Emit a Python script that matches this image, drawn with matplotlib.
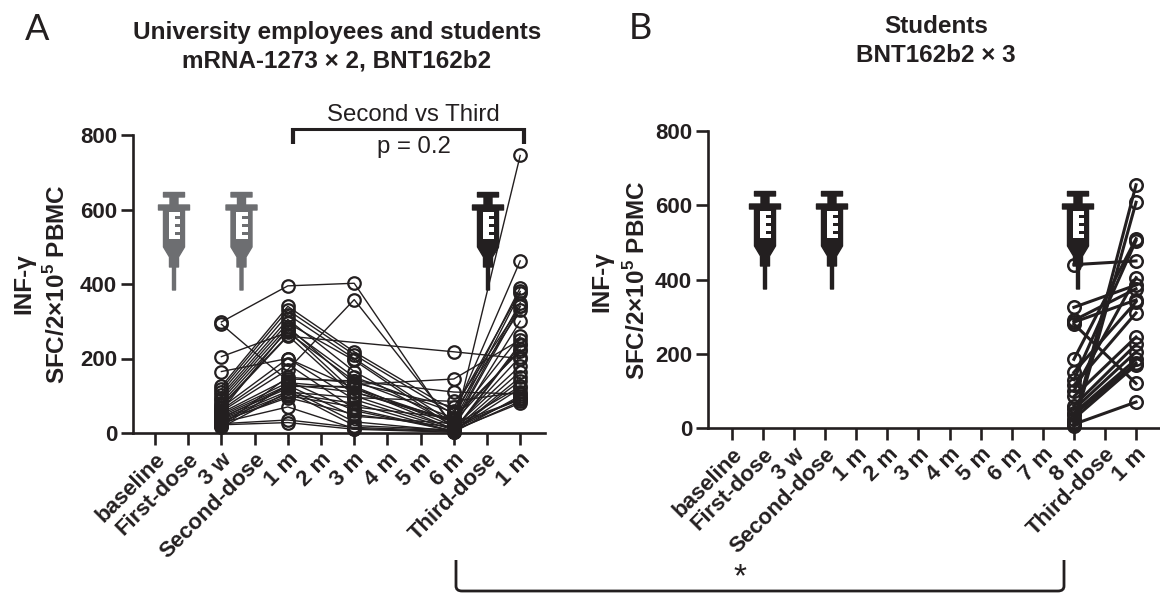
import numpy as np
import matplotlib
matplotlib.use('Agg')
import matplotlib.pyplot as plt
from matplotlib.patches import Polygon, PathPatch
from matplotlib.path import Path

plt.rcParams['font.family'] = ['Liberation Sans', 'DejaVu Sans']
plt.rcParams['mathtext.fontset'] = 'custom'
plt.rcParams['mathtext.bf'] = 'Liberation Sans:bold'
plt.rcParams['mathtext.rm'] = 'Liberation Sans:bold'

W, H = 1160, 597
INK = '#231f20'

labels_a = ['baseline', 'First-dose', '3 w', 'Second-dose', '1 m', '2 m', '3 m',
            '4 m', '5 m', '6 m', 'Third-dose', '1 m']
labels_b = ['baseline', 'First-dose', '3 w', 'Second-dose', '1 m', '2 m', '3 m',
            '4 m', '5 m', '6 m', '7 m', '8 m', 'Third-dose', '1 m']

# panel A, one entry per subject, nan = not sampled
a_3w = [298, 292, 205, 165, 125, 118, 110, 102, 95, 88, 80, 74, 68, 62, 58, 54, 50,
        46, 42, 38, 35, 32, 28, 25, 22, 20, 18, 15, 70, 60, 40, 30]
a_1m = [395, 140, 270, 200, 340, 330, 318, 305, 295, 285, 275, 262, 200, 185, 170,
        145, 135, 128, 120, 112, 105, 95, 70, 35, 28, 150, 130, 110, 260, 280, 125, 100]
a_3m = [402, 60, 140, 120, 218, 210, 200, 165, 195, 130, 110, 100, 90, 65, 358, 140,
        120, 45, 30, 20, 80, 50, 12, 15, 10, 135, 110, 95, np.nan, 150, 125, 70]
a_6m = [10, 5, 40, 30, 60, 50, 25, 20, 15, 145, 30, 12, 8, 5, 20, 110, 10, 25, 5, 8,
        3, 15, 4, 6, 2, 70, 35, 85, 218, 55, 18, 40]
a_bt = [745, 240, 390, 375, 380, 462, 350, 340, 300, 250, 225, 205, 165, 140, 125,
        105, 95, 90, 85, 80, 235, 180, 150, 120, 100, 340, 260, 110, 200, 330, 90, 220]

# panel B
b_8m = [440, 325, 290, 285, 280, 185, 150, 130, 115, 100, 85, 60, 50, 40, 35, 25, 15, 10, 5]
b_bt = [450, 385, 375, 345, 120, 510, 340, 505, 310, 405, 245, 225, 205, 185, 175, 170, 655, 70, 608]

a_idx = [2, 4, 6, 9, 11]
b_idx = [11, 13]


def fx(x):
    return x / W


def fy(y):
    return 1 - y / H


def px_axes(left, right, top, bottom):
    return fig.add_axes([left / W, 1 - bottom / H, (right - left) / W, (bottom - top) / H])


def style(ax, labels, x0, step, left, right):
    ax.set_xlim((left - x0) / step, (right - x0) / step)
    ax.set_ylim(0, 800)
    ax.set_xticks(range(len(labels)))
    ax.set_xticklabels(labels, rotation=45, ha='right', rotation_mode='anchor',
                       fontsize=15.5, fontweight='bold')
    ax.set_yticks([0, 200, 400, 600, 800])
    ax.tick_params(axis='both', width=1.9, length=8.5, labelsize=16, pad=3, colors=INK)
    for t in ax.get_yticklabels():
        t.set_fontweight('bold')
    for s in ['top', 'right']:
        ax.spines[s].set_visible(False)
    for s in ['left', 'bottom']:
        ax.spines[s].set_linewidth(1.9)
        ax.spines[s].set_color(INK)


def syringe(cx, top, color):
    # drawn in pixel coords of the picture, only decoration
    def P(pts, c=color, lw=0.0):
        xy = [(fx(cx + x), fy(top + y)) for x, y in pts]
        fig.add_artist(Polygon(xy, closed=True, fc=c, ec=c, lw=lw, joinstyle='round',
                               transform=fig.transFigure))
    P([(-10.5, 0.5), (10.5, 0.5), (10.5, 5), (4, 5), (4, 13), (15.5, 13), (15.5, 18), (10.5, 18),
       (10.5, 55), (4.5, 65), (4.5, 75), (1.5, 75), (1.5, 98), (-1.5, 98), (-1.5, 75), (-4.5, 75),
       (-4.5, 65), (-10.5, 55), (-10.5, 18), (-15.5, 18), (-15.5, 13), (-4, 13), (-4, 5),
       (-10.5, 5)], lw=1.0)
    P([(-5.5, 20), (6, 20), (6, 24), (1, 24), (1, 27), (6, 27), (6, 32), (1, 32), (1, 35),
       (6, 35), (6, 40), (1, 40), (1, 43), (6, 43), (6, 47), (-5.5, 47)], 'white')


def seg(x1, y1, x2, y2, lw):
    fig.add_artist(plt.Line2D([fx(x1), fx(x2)], [fy(y1), fy(y2)], color=INK, lw=lw,
                              transform=fig.transFigure, solid_capstyle='butt'))


fig = plt.figure(figsize=(W / 100, H / 100), dpi=100)

ax1 = px_axes(133, 545, 135, 433)
style(ax1, labels_a, 155, 33.2, 133, 545)
for row in zip(a_3w, a_1m, a_3m, a_6m, a_bt):
    y = np.array(row, dtype=float)
    ok = ~np.isnan(y)
    ax1.plot(np.array(a_idx)[ok], y[ok], '-', color=INK, lw=1.0, marker='o', ms=9.0,
             mfc='none', mec=INK, mew=1.6, clip_on=False)

ax2 = px_axes(708, 1160, 131, 428)
style(ax2, labels_b, 732, 31.08, 708, 1160)
for a, b in zip(b_8m, b_bt):
    ax2.plot(b_idx, [a, b], '-', color=INK, lw=2.2, marker='o', ms=9.0,
             mfc='none', mec=INK, mew=1.8, clip_on=False)

for cx in [174, 241.5]:
    syringe(cx, 192, '#6d6e71')
syringe(488, 192, INK)
for cx in [765, 832, 1078]:
    syringe(cx, 191, INK)

for x, y, s in [(337, 39.5, 'University employees and students'),
                (337, 67.5, 'mRNA-1273 × 2, BNT162b2'),
                (936, 33, 'Students'),
                (936, 62, 'BNT162b2 × 3')]:
    fig.text(fx(x), fy(y), s, ha='center', va='baseline', fontsize=17.5,
             fontweight='bold', color=INK)

fig.text(fx(37), fy(40), 'A', ha='center', va='baseline', fontsize=26, family='Lato', color=INK)
fig.text(fx(640), fy(39), 'B', ha='center', va='baseline', fontsize=26, family='Lato', color=INK)

for x, y, s in [(24, 284, 'INF-γ'), (57, 284, 'SFC/2×10$^{\\mathbf{5}}$ PBMC'),
                (602, 282, 'INF-γ'), (637, 280, 'SFC/2×10$^{\\mathbf{5}}$ PBMC')]:
    fig.text(fx(x), fy(y), s, rotation=90, ha='center', va='center', fontsize=17.5,
             fontweight='bold', color=INK)

# second vs third bracket
seg(291, 129, 525, 129, 2.2)
seg(292.5, 128, 292.5, 144, 3.0)
seg(523.5, 128, 523.5, 144, 3.0)
fig.text(fx(413), fy(121.5), 'Second vs Third', ha='center', va='baseline', fontsize=17.3, color=INK)
fig.text(fx(414), fy(153), 'p = 0.2', ha='center', va='baseline', fontsize=17.3, color=INK)

# bottom bracket with round corners
verts = [(456, 560), (456, 586), (456, 591), (462, 591), (1058, 591), (1064, 591), (1064, 586), (1064, 560)]
codes = [Path.MOVETO, Path.LINETO, Path.CURVE3, Path.CURVE3, Path.LINETO, Path.CURVE3, Path.CURVE3, Path.LINETO]
fig.add_artist(PathPatch(Path([(fx(x), fy(y)) for x, y in verts], codes), fc='none', ec=INK, lw=2.0,
                         transform=fig.transFigure))
fig.text(fx(740), fy(578), '*', ha='center', va='center', fontsize=24, color=INK)

fig.savefig('out.png', dpi=100)
